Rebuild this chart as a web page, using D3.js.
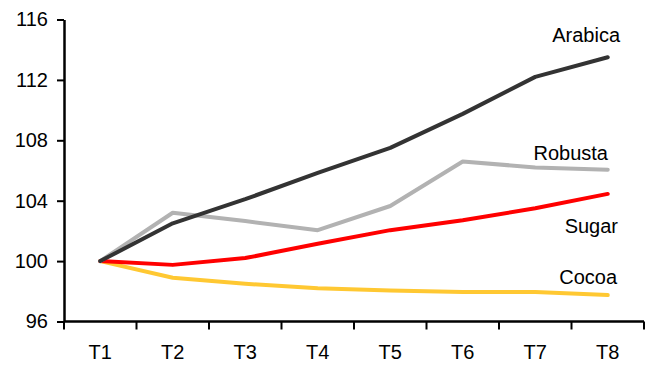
<!DOCTYPE html>
<html>
<head>
<meta charset="utf-8">
<script src="https://cdn.jsdelivr.net/npm/d3@7"></script>
<style>
  html, body { margin: 0; padding: 0; background: #fff; }
  svg { display: block; font-family: "Liberation Sans", Arial, sans-serif; }
</style>
</head>
<body>
<svg id="chart" width="656" height="365"></svg>
<script>
// Periods on the x axis
const periods = ["T1", "T2", "T3", "T4", "T5", "T6", "T7", "T8"];

// Indexed prices (T1 = 100)
const arabica = [100, 102.5, 104.1, 105.85, 107.5, 109.75, 112.2, 113.5];
const robusta = [100, 103.2, 102.65, 102.05, 103.65, 106.6, 106.2, 106.05];
const sugar   = [100, 99.75, 100.2, 101.15, 102.05, 102.7, 103.5, 104.45];
const cocoa   = [100, 98.9, 98.5, 98.2, 98.05, 97.95, 97.95, 97.75];

// Y axis ticks
const yTicks = [96, 100, 104, 108, 112, 116];

// Series in drawing order (last is on top)
const seriesNames  = ["Cocoa", "Sugar", "Robusta", "Arabica"];
const seriesValues = [cocoa, sugar, robusta, arabica];
const seriesColors = ["#ffc832", "#ff0000", "#b2b2b2", "#333333"];

const svg = d3.select("#chart");
const margin = { left: 64, right: 12, top: 19.5, bottom: 43.5 };
const W = 656, H = 365;

const x = d3.scaleBand()
  .domain(periods)
  .range([margin.left, W - margin.right])
  .paddingInner(0).paddingOuter(0);

const y = d3.scaleLinear()
  .domain([96, 116])
  .range([H - margin.bottom, margin.top]);

// Series lines
const line = d3.line()
  .x((d, i) => x(periods[i]) + x.bandwidth() / 2)
  .y(d => y(d));

svg.append("g")
  .selectAll("path")
  .data(seriesValues)
  .join("path")
  .attr("d", d => line(d))
  .attr("fill", "none")
  .attr("stroke", (d, i) => seriesColors[i])
  .attr("stroke-width", 4)
  .attr("stroke-linejoin", "round")
  .attr("stroke-linecap", "round");

// X axis: ticks at band boundaries, labels centred in bands
const xAxisG = svg.append("g")
  .attr("transform", `translate(0,${y(96)})`);
xAxisG.append("line")
  .attr("x1", margin.left).attr("x2", W - margin.right)
  .attr("y1", 0).attr("y2", 0)
  .attr("stroke", "#000").attr("stroke-width", 2.5);
const boundaries = periods.map(p => x(p)).concat([x(periods[periods.length - 1]) + x.bandwidth()]);
xAxisG.selectAll("line.tick")
  .data(boundaries)
  .join("line")
  .attr("class", "tick")
  .attr("x1", d => d).attr("x2", d => d)
  .attr("y1", 0).attr("y2", 8)
  .attr("stroke", "#000").attr("stroke-width", 2);
xAxisG.selectAll("text")
  .data(periods)
  .join("text")
  .attr("x", d => x(d) + x.bandwidth() / 2)
  .attr("y", 37)
  .attr("text-anchor", "middle")
  .attr("font-size", 20)
  .attr("fill", "#000")
  .text(d => d);

// Y axis
const yAxis = d3.axisLeft(y)
  .tickValues(yTicks)
  .tickSize(7)
  .tickPadding(9)
  .tickSizeOuter(0);
const yAxisG = svg.append("g")
  .attr("transform", `translate(${margin.left},0)`)
  .call(yAxis);
yAxisG.select(".domain").attr("stroke", "#000").attr("stroke-width", 2.5);
yAxisG.selectAll(".tick line").attr("stroke", "#000").attr("stroke-width", 2);
yAxisG.selectAll(".tick text")
  .attr("font-size", 20)
  .attr("font-family", "Liberation Sans, Arial, sans-serif")
  .attr("fill", "#000");

// Series labels near line ends
const labelNames = ["Arabica", "Robusta", "Sugar", "Cocoa"];
const labelX     = [620, 608, 618, 617];
const labelY     = [42, 160, 233, 284];
svg.append("g")
  .selectAll("text")
  .data(labelNames)
  .join("text")
  .attr("x", (d, i) => labelX[i])
  .attr("y", (d, i) => labelY[i])
  .attr("text-anchor", "end")
  .attr("font-size", 20)
  .attr("fill", "#000")
  .text(d => d);
</script>
</body>
</html>
